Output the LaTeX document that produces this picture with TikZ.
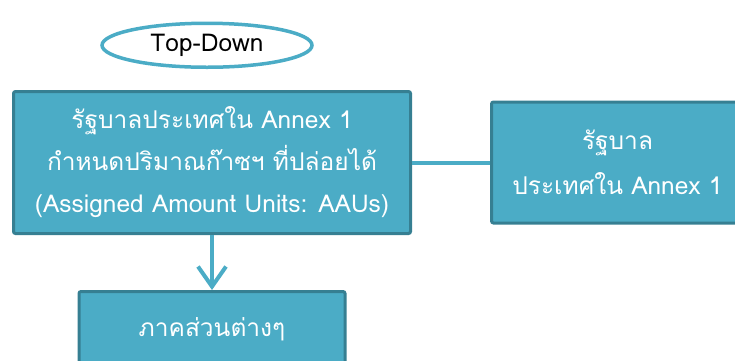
\documentclass[tikz,border=0pt]{standalone}
\usepackage{fontspec}
\newfontfamily\thaifont[Script=Thai]{Loma}
\usetikzlibrary{positioning,arrows.meta,shapes.geometric}
\definecolor{boxfill}{HTML}{4BACC6}
\definecolor{boxline}{HTML}{367F92}
\begin{document}
\begin{tikzpicture}
[
x=1pt, y=1pt,
box/.style={rectangle, rounded corners=2pt, fill=boxfill, draw=boxline, line width=3pt, text=white, align=center, font=\thaifont\fontsize{24.5}{42}\selectfont, inner sep=0pt},
oval/.style={ellipse, draw=boxfill, line width=3.5pt, fill=white, minimum width=210pt, minimum height=44pt, font=\thaifont\fontsize{24.5}{28}\selectfont},
link/.style={draw=boxfill, line width=4pt}
]
\clip (0,0) rectangle (735,-360);
\useasboundingbox (0,0) rectangle (735,-360);
%Nodes
\node[box, minimum width=397pt, minimum height=142pt] (govt) at (212,-162.5) {รัฐบาลประเทศใน Annex 1\\กำหนดปริมาณก๊าซฯ ที่ปล่อยได้\\(Assigned Amount Units: AAUs)};
\node[oval]     (topdown)   [above=21pt of govt, xshift=-5pt]   {Top-Down};
\node[box, minimum width=252pt, minimum height=121pt, font=\thaifont\fontsize{24.5}{45}\selectfont] (annex) [right=78pt of govt] {รัฐบาล\\ประเทศใน Annex 1};
\node[box, minimum width=266pt, minimum height=76pt]  (sector) [below=55pt of govt] {ภาคส่วนต่างๆ};

%Lines
\draw[link] (govt.east) -- (annex.west);
\draw[link, -{Straight Barb[length=20pt, width=28pt]}] (govt.south) -- (sector.north);

\end{tikzpicture}
\end{document}
